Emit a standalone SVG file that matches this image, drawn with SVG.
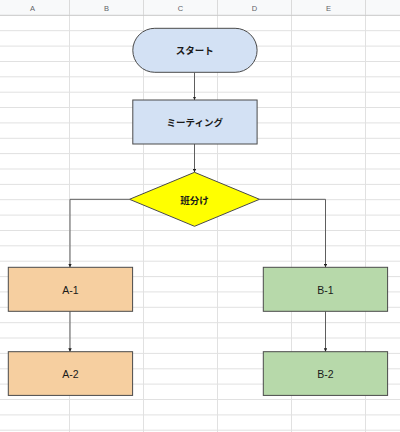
<svg xmlns="http://www.w3.org/2000/svg" width="400" height="432" viewBox="0 0 400 432">
<defs>
<style>
.grid line{stroke:#e1e1e1;stroke-width:1}
.hdr{font-family:"Liberation Sans",Arial,sans-serif;font-size:7.5px;fill:#5f6368;text-anchor:middle}
.shape{stroke:#4a4a4a;stroke-width:1}
.lbl{font-family:"Noto Sans CJK JP","Liberation Sans",sans-serif;font-size:9.5px;fill:#1a1a1a;text-anchor:middle;dominant-baseline:central;font-weight:bold}
.lbl2{font-family:"Liberation Sans",Arial,sans-serif;font-size:10.5px;fill:#1a1a1a;text-anchor:middle;dominant-baseline:central}
.conn path{fill:none;stroke:#5e5e5e;stroke-width:1}
</style>
<marker id="arr" viewBox="0 0 6 6" refX="6" refY="3" markerWidth="3.5" markerHeight="3.5" orient="auto" markerUnits="userSpaceOnUse">
<path d="M0,0 L6,3 L0,6 z" fill="#222"/>
</marker>
</defs>
<rect width="400" height="432" fill="#ffffff"/>
<g class="grid">
<line x1="0" y1="30.7" x2="400" y2="30.7"/>
<line x1="0" y1="46.1" x2="400" y2="46.1"/>
<line x1="0" y1="61.5" x2="400" y2="61.5"/>
<line x1="0" y1="76.8" x2="400" y2="76.8"/>
<line x1="0" y1="92.2" x2="400" y2="92.2"/>
<line x1="0" y1="107.5" x2="400" y2="107.5"/>
<line x1="0" y1="122.9" x2="400" y2="122.9"/>
<line x1="0" y1="138.3" x2="400" y2="138.3"/>
<line x1="0" y1="153.6" x2="400" y2="153.6"/>
<line x1="0" y1="169.0" x2="400" y2="169.0"/>
<line x1="0" y1="184.4" x2="400" y2="184.4"/>
<line x1="0" y1="199.7" x2="400" y2="199.7"/>
<line x1="0" y1="215.1" x2="400" y2="215.1"/>
<line x1="0" y1="230.5" x2="400" y2="230.5"/>
<line x1="0" y1="245.8" x2="400" y2="245.8"/>
<line x1="0" y1="261.2" x2="400" y2="261.2"/>
<line x1="0" y1="276.6" x2="400" y2="276.6"/>
<line x1="0" y1="291.9" x2="400" y2="291.9"/>
<line x1="0" y1="307.3" x2="400" y2="307.3"/>
<line x1="0" y1="322.7" x2="400" y2="322.7"/>
<line x1="0" y1="338.0" x2="400" y2="338.0"/>
<line x1="0" y1="353.4" x2="400" y2="353.4"/>
<line x1="0" y1="368.8" x2="400" y2="368.8"/>
<line x1="0" y1="384.1" x2="400" y2="384.1"/>
<line x1="0" y1="399.5" x2="400" y2="399.5"/>
<line x1="0" y1="414.9" x2="400" y2="414.9"/>
<line x1="0" y1="430.2" x2="400" y2="430.2"/>
<line x1="69.5" y1="0" x2="69.5" y2="432"/>
<line x1="143.5" y1="0" x2="143.5" y2="432"/>
<line x1="217.5" y1="0" x2="217.5" y2="432"/>
<line x1="291.5" y1="0" x2="291.5" y2="432"/>
<line x1="365.5" y1="0" x2="365.5" y2="432"/>
</g>
<g id="header">
<rect x="0" y="0" width="400" height="15" fill="#f8f9fa"/>
<line x1="0" y1="15.3" x2="400" y2="15.3" stroke="#c7c7c7" stroke-width="1"/>
<line x1="69.5" y1="0" x2="69.5" y2="15" stroke="#dadada"/>
<line x1="143.5" y1="0" x2="143.5" y2="15" stroke="#dadada"/>
<line x1="217.5" y1="0" x2="217.5" y2="15" stroke="#dadada"/>
<line x1="291.5" y1="0" x2="291.5" y2="15" stroke="#dadada"/>
<line x1="365.5" y1="0" x2="365.5" y2="15" stroke="#dadada"/>
<text class="hdr" x="32.5" y="10.5">A</text>
<text class="hdr" x="106.5" y="10.5">B</text>
<text class="hdr" x="180.5" y="10.5">C</text>
<text class="hdr" x="254.5" y="10.5">D</text>
<text class="hdr" x="328.5" y="10.5">E</text>
</g>
<g class="conn">
<path d="M194.5,72.5 V100" marker-end="url(#arr)"/>
<path d="M194.5,144 V172.3" marker-end="url(#arr)"/>
<path d="M129.5,199.3 H70 V267.3" marker-end="url(#arr)"/>
<path d="M259.5,199.3 H325.5 V267.3" marker-end="url(#arr)"/>
<path d="M70,311.3 V351.7" marker-end="url(#arr)"/>
<path d="M325.5,311.3 V351.7" marker-end="url(#arr)"/>
</g>
<g id="start">
<rect class="shape" x="132.8" y="28.3" width="124.3" height="44" rx="22" ry="22" fill="#d3e1f4"/>
<text class="lbl" x="194.7" y="50.3">スタート</text>
</g>
<g id="meeting">
<rect class="shape" x="132.8" y="100" width="124.3" height="44" fill="#d3e1f4"/>
<text class="lbl" x="194.7" y="122.3">ミーティング</text>
</g>
<g id="split">
<polygon class="shape" points="194.5,172.3 259.5,199.3 194.5,226.3 129.5,199.3" fill="#ffff00"/>
<text class="lbl" x="194.5" y="199.5">班分け</text>
</g>
<g id="a1">
<rect class="shape" x="8.3" y="267.3" width="124.3" height="44" fill="#f6cfa0"/>
<text class="lbl2" x="70.5" y="289.5">A-1</text>
</g>
<g id="a2">
<rect class="shape" x="8.3" y="351.7" width="124.3" height="43.7" fill="#f6cfa0"/>
<text class="lbl2" x="70.5" y="373.5">A-2</text>
</g>
<g id="b1">
<rect class="shape" x="263.3" y="267.3" width="124.3" height="44" fill="#b7d9aa"/>
<text class="lbl2" x="325.5" y="289.5">B-1</text>
</g>
<g id="b2">
<rect class="shape" x="263.3" y="351.7" width="124.3" height="43.7" fill="#b7d9aa"/>
<text class="lbl2" x="325.5" y="373.5">B-2</text>
</g>
</svg>
